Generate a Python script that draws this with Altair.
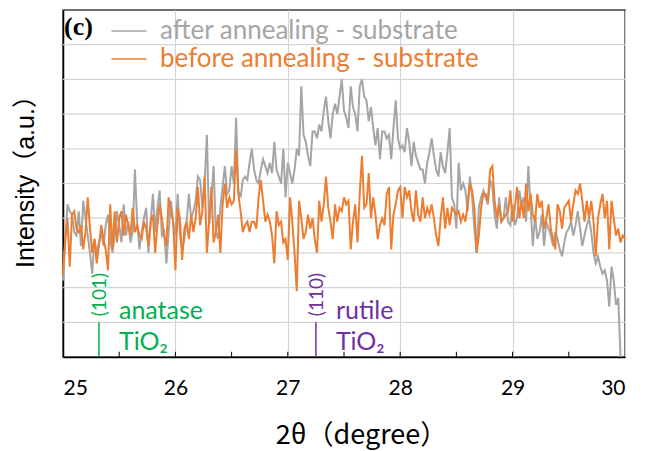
import altair as alt
import pandas as pd

# sample angles (2-theta, degree), 0.02 step
angles = [round(25 + 0.02 * i, 2) for i in range(251)]

after_annealing = [
    2.2, 3.3, 4.4, 4.2, 4.1, 3.6, 3.5, 4.2, 3.2, 4.5, 4.0, 3.5, 3.0, 2.4, 3.4, 3.0, 3.3, 3.6, 3.2, 3.8, 4.1, 3.4, 3.0, 3.5, 4.2,
    3.8, 3.3, 4.4, 3.5, 3.9, 3.3, 3.6, 5.4, 3.9, 3.1, 3.6, 4.0, 4.3, 3.0, 3.9, 4.7,
    3.6, 4.3, 4.8, 3.5, 3.6, 2.7, 3.6, 4.5, 3.9, 3.5,
    4.7, 3.5, 3.1, 3.4, 3.9, 4.7, 4.0, 4.2, 4.5, 5.2, 5.1, 4.3, 5.0, 6.4, 3.8, 4.6, 5.5, 3.6, 3.4, 4.3,
    4.9, 5.5, 4.7, 4.8, 5.5, 5.0, 6.9, 4.8, 4.6, 5.1, 5.2, 5.1, 5.6, 6.0, 5.4,
    5.1, 5.0, 5.4, 5.7, 5.5, 5.3, 5.6, 5.3, 6.2, 5.4, 5.2, 5.0, 6.0, 4.6, 5.6, 5.3, 5.0, 5.4, 6.0, 5.8,
    7.8, 6.4, 6.2, 5.8, 5.5, 6.5, 6.5, 6.3, 6.7, 6.5, 7.1, 7.5, 6.8, 6.3, 7.0, 7.3, 7.0, 7.5, 8.0, 7.1,
    6.9, 6.6, 7.8, 7.2, 7.0, 6.5, 7.8, 8.0, 7.5, 7.4, 6.8, 7.2, 6.6, 6.1, 6.6, 5.7, 6.5, 6.5, 6.3, 6.4,
    5.7, 6.6, 7.4, 6.3, 6.0, 6.1, 5.9, 6.6, 6.2, 5.5, 6.2, 5.8, 5.6, 5.4, 5.4, 5.0, 5.6, 5.9, 6.3, 5.8,
    5.4, 5.2, 5.9, 5.5, 5.3, 5.9, 6.6, 4.6, 4.4, 3.7,
    5.6, 4.8, 5.0, 4.8, 4.2, 5.2, 4.6, 3.7, 3.0, 4.3, 4.6, 4.8, 4.6, 4.4, 5.1, 4.9, 4.1, 3.7, 4.6, 3.9,
    4.0, 4.6, 3.9, 3.8, 4.4, 3.8, 4.0, 4.8, 4.4, 4.6, 3.9, 5.5, 4.3, 3.2, 4.1, 3.4,
    3.6, 4.1, 3.2, 3.9, 3.7, 3.5, 3.2, 3.6, 3.4, 3.1, 2.9, 3.3, 3.6, 3.7, 3.9, 3.5, 3.8, 4.2, 3.7, 3.2,
    3.5, 3.8, 4.0, 3.6, 3.0, 2.7, 2.9, 2.6, 2.4, 2.5, 2.2, 1.45, 2.6, 2.2, 1.5, 1.7, 0.0,
    None, None,
]

before_annealing = [
    2.4, 3.4, 4.0, 2.6, 4.1, 4.2, 3.7, 3.6, 3.8, 3.1, 3.6, 4.6, 3.7, 3.0, 3.4, 2.7, 3.2, 3.8, 3.4, 3.1, 2.5, 4.4, 3.1, 4.2, 3.3,
    4.0, 4.2, 3.5, 4.1, 3.8, 3.5, 4.3, 3.6, 3.8, 3.5, 3.4, 3.9, 3.7, 3.2, 3.9, 4.1, 3.0, 3.8, 4.4, 4.0, 3.5, 3.2, 4.6, 4.2, 3.9, 2.5,
    4.3, 4.0, 2.8, 3.7, 3.9, 3.4, 4.1, 3.6, 4.0, 4.9, 3.8, 4.2, 5.2, 3.0, 3.9, 4.9, 3.3, 3.6, 4.1, 3.0,
    4.4, 5.0, 4.3, 4.6, 4.4, 4.5, 6.0, 4.7, 4.2, 3.6, 3.8, 3.9, 3.6, 3.9, 3.9,
    3.7, 4.6, 5.1, 4.5, 3.9, 4.1, 3.9, 3.5, 2.7, 4.2, 3.8, 3.9, 3.3, 3.4, 2.8, 4.6, 3.9, 3.0, 1.9, 4.5,
    4.0, 3.4, 3.6, 4.1, 3.7, 4.0, 3.4, 3.0, 4.5, 3.9, 4.4, 5.2, 4.3, 3.9, 3.4, 4.4, 3.9, 4.3, 4.2, 4.6,
    4.4, 4.5, 3.1, 3.9, 4.4, 3.3, 4.7, 5.8, 4.3, 4.4, 5.3, 4.0, 4.6, 4.1, 3.4, 3.8, 4.0, 3.8, 4.7, 4.9,
    3.1, 4.1, 4.4, 4.8, 4.9, 4.0, 4.9, 4.6, 4.8, 4.2, 3.9, 4.8, 4.1, 3.9, 4.6, 4.0, 4.3, 4.1, 4.4, 4.0,
    3.5, 3.2, 4.0, 4.6, 3.7, 4.3, 3.8, 4.3, 4.2, 4.1,
    4.2, 3.9, 4.1, 3.9, 4.4, 5.0, 4.8, 4.3, 3.0, 3.5, 4.3, 4.7, 4.7, 4.5, 5.4, 5.5, 4.5, 4.0, 4.4, 3.9,
    4.0, 4.1, 4.2, 4.8, 3.9, 4.3, 4.9, 4.0, 4.5, 4.0, 5.0, 4.2, 4.7, 4.1, 3.9,
    4.7, 4.3, 4.5, 3.7, 4.0, 4.4, 3.7, 3.4, 3.1, 4.4, 4.2, 3.7, 4.3, 4.4, 4.5, 3.9, 4.4, 4.8, 4.7, 5.0,
    4.5, 3.9, 4.5, 4.0, 4.5, 3.9, 2.9, 4.0, 4.4, 4.7, 4.0, 4.5, 3.1, 4.5, 4.0, 3.5, 3.7, 3.3, 3.5, 3.4,
]

series_names = ["after annealing - substrate", "before annealing - substrate"]
series_colors = ["#a5a5a5", "#ed7d31"]

x_labels = [25, 26, 27, 28, 29, 30]
x_minor_ticks = [25.5, 26, 26.5, 27, 27.5, 28, 28.5, 29, 29.5]
y_grid = [1, 2, 3, 4, 5, 6, 7, 8, 9]

phase_pos = [25.32, 27.25]
phase_hkl = ["(101)", "(110)"]
phase_name = ["anatase", "rutile"]
phase_formula = ["TiO₂", "TiO₂"]
phase_colors = ["#00b050", "#7030a0"]

panel_label = "(c)"

df = pd.DataFrame({
    "angle": angles + angles,
    "intensity": after_annealing + before_annealing,
    "series": [series_names[0]] * len(angles) + [series_names[1]] * len(angles),
})

phases = pd.DataFrame({
    "pos": phase_pos, "hkl": phase_hkl, "name": phase_name,
    "formula": phase_formula, "color": phase_colors,
    "y0": [0.0, 0.0], "y1": [1.0, 1.0], "yh": [1.8, 1.8], "yn": [1.33, 1.33], "yf": [0.43, 0.43],
})

ticks_df = pd.DataFrame({"t": x_minor_ticks, "y0": 0.0, "y1": 0.15})
hgrid_df = pd.DataFrame({"g": y_grid})

xscale = alt.Scale(domain=[25, 30], nice=False)
yscale = alt.Scale(domain=[0, 10], nice=False)

x_axis = alt.Axis(values=x_labels, format="d", ticks=False, grid=True, gridColor="#d4d4d4",
                  gridWidth=1.2, labelFont="Lato", labelFontSize=21, labelColor="#000",
                  labelPadding=20, domainColor="#000", domainWidth=1.5,
                  title="2θ（degree）", titleFont="Noto Sans CJK JP", titleFontSize=27,
                  titleFontWeight="normal", titleColor="#000", titlePadding=24, titleX=298)
y_axis = alt.Axis(labels=False, ticks=False, grid=False, domainColor="#000", domainWidth=1.5,
                  title="Intensity（a.u.）", titleFont="Liberation Sans, Noto Sans CJK JP",
                  titleFontSize=25, titleFontWeight="normal", titleColor="#000",
                  titlePadding=25, titleY=165)

label_color_expr = alt.ExprRef(
    expr=f"datum.value == '{series_names[0]}' ? '{series_colors[0]}' : '{series_colors[1]}'")

hgrid = alt.Chart(hgrid_df).mark_rule(color="#d4d4d4", strokeWidth=1.2).encode(
    y=alt.Y("g:Q", scale=yscale, axis=y_axis))

lines = alt.Chart(df).mark_line(strokeWidth=2).encode(
    x=alt.X("angle:Q", scale=xscale, axis=x_axis),
    y=alt.Y("intensity:Q", scale=yscale, axis=y_axis),
    color=alt.Color("series:N",
                    scale=alt.Scale(domain=series_names, range=series_colors),
                    legend=alt.Legend(title=None, orient="none", legendX=51, legendY=6,
                                      symbolType="M-1.25,0H1.25", symbolSize=784,
                                      symbolStrokeWidth=1.5,
                                      labelFont="Lato", labelFontSize=26, labelOffset=16,
                                      labelLimit=0, rowPadding=0, labelColor=label_color_expr)),
)

tick_marks = alt.Chart(ticks_df).mark_rule(color="#000", strokeWidth=1).encode(
    x=alt.X("t:Q", scale=xscale), y=alt.Y("y0:Q", scale=yscale), y2="y1:Q")

phase_lines = alt.Chart(phases).mark_rule(strokeWidth=1.5).encode(
    x=alt.X("pos:Q", scale=xscale), y=alt.Y("y0:Q", scale=yscale), y2="y1:Q",
    color=alt.Color("color:N", scale=None))

phase_hkl_text = alt.Chart(phases).mark_text(angle=270, font="Lato", fontSize=19,
                                             align="center", baseline="middle", dy=1).encode(
    x=alt.X("pos:Q", scale=xscale), y=alt.Y("yh:Q", scale=yscale), text="hkl:N",
    color=alt.Color("color:N", scale=None))

phase_name_text = alt.Chart(phases).mark_text(font="Lato", fontSize=25, align="left",
                                              baseline="middle", dx=20).encode(
    x=alt.X("pos:Q", scale=xscale), y=alt.Y("yn:Q", scale=yscale), text="name:N",
    color=alt.Color("color:N", scale=None))

phase_formula_text = alt.Chart(phases).mark_text(font="Lato", fontSize=25, align="left",
                                                 baseline="middle", dx=20).encode(
    x=alt.X("pos:Q", scale=xscale), y=alt.Y("yf:Q", scale=yscale), text="formula:N",
    color=alt.Color("color:N", scale=None))

panel = alt.Chart(pd.DataFrame({"label": [panel_label], "px": [25.0], "py": [9.5]})).mark_text(
    font="Liberation Serif", fontSize=26, fontWeight="bold", align="left", baseline="middle",
    dx=1, color="#000").encode(
    x=alt.X("px:Q", scale=xscale), y=alt.Y("py:Q", scale=yscale), text="label:N")

chart = alt.layer(hgrid, lines, tick_marks, phase_lines, phase_hkl_text, phase_name_text,
                  phase_formula_text, panel).properties(
    width=562, height=347,
    autosize=alt.AutoSizeParams(type="none"),
    padding={"left": 55, "top": 2, "right": 20, "bottom": 96},
).configure_view(stroke="#404040", strokeWidth=1.5)

chart.save("out.html", embed_options={"renderer": "svg", "actions": False})
